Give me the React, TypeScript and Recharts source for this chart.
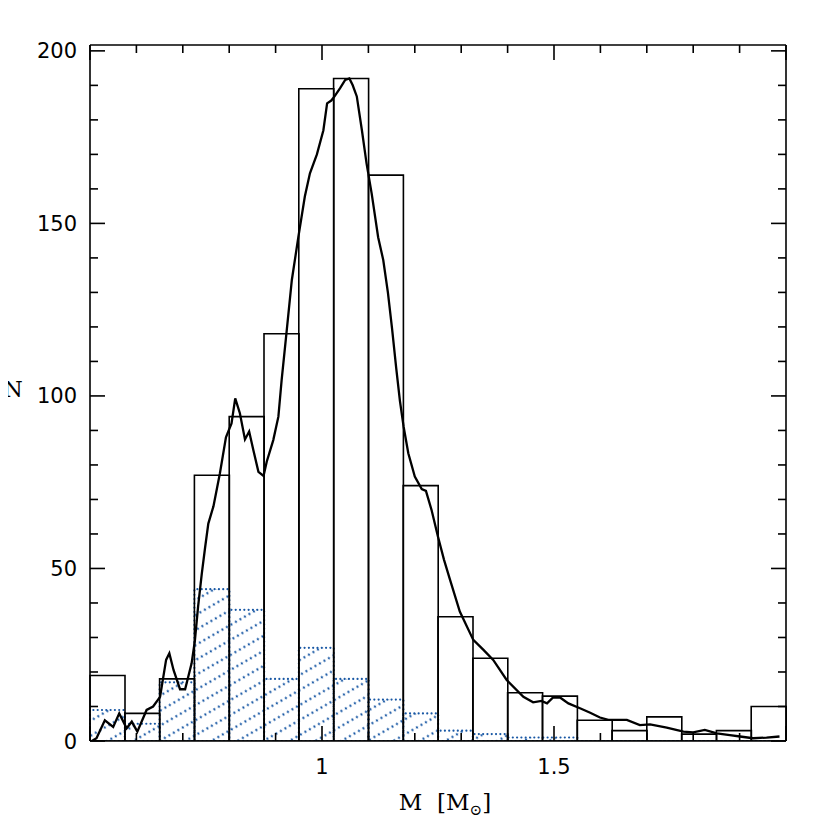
import { Bar, ComposedChart, Label, Line, XAxis, YAxis } from 'recharts';

// histogram bins (lower edges, width 0.075 Msun)
const binStart = [
  '0.500', '0.575', '0.650', '0.725', '0.800', '0.875', '0.950', '1.025', '1.100', '1.175',
  '1.250', '1.325', '1.400', '1.475', '1.550', '1.625', '1.700', '1.775', '1.850', '1.925',
];
const totalCounts = [19, 8, 18, 77, 94, 118, 189, 192, 164, 74, 36, 24, 14, 13, 6, 3, 7, 2, 3, 10];
const subCounts = [9, 5, 17, 44, 38, 18, 27, 18, 12, 8, 3, 2, 1, 1, 0, 0, 0, 0, 0, 0];

// smoothed distribution
const curveMass = [
  0.504, 0.514, 0.532, 0.55, 0.563, 0.579, 0.59, 0.602, 0.622, 0.636, 0.651, 0.664, 0.671, 0.68,
  0.694, 0.705, 0.719, 0.726, 0.733, 0.741, 0.748, 0.755, 0.766, 0.78, 0.793, 0.805, 0.813, 0.823,
  0.834, 0.843, 0.852, 0.863, 0.874, 0.881, 0.895, 0.906, 0.913, 0.924, 0.935, 0.949, 0.963, 0.974,
  0.989, 1.003, 1.011, 1.02, 1.027, 1.039, 1.05, 1.059, 1.066, 1.075, 1.086, 1.096, 1.107, 1.121,
  1.132, 1.142, 1.151, 1.16, 1.168, 1.176, 1.186, 1.2, 1.215, 1.224, 1.236, 1.25, 1.263, 1.276, 1.297,
  1.326, 1.348, 1.369, 1.398, 1.434, 1.455, 1.473, 1.485, 1.498, 1.513, 1.531, 1.556, 1.578, 1.599,
  1.617, 1.657, 1.685, 1.707, 1.743, 1.779, 1.8, 1.825, 1.851, 1.879, 1.901, 1.929, 1.958, 1.986,
];
const curveN = [
  0, 0.8, 6, 4.1, 8, 3.7, 5.6, 2.7, 9, 10, 12.8, 23.5, 25.4, 20.6,
  15, 15, 22.5, 29, 39, 48.6, 56, 63, 68, 77.6, 88, 92, 99.3, 95,
  87.4, 89.7, 84.3, 78, 76.8, 81, 87.2, 94, 104.6, 119, 133.6, 146, 157.8, 164.5,
  170, 177, 184.8, 185.6, 186.8, 189.2, 191.6, 192, 190.1, 186.8, 177, 167.4, 158.7, 146,
  139.4, 130, 119.5, 108, 98.5, 91, 83.4, 76.6, 73, 72.5, 67, 59.2, 52.5, 46.7, 37.5,
  29.3, 26.4, 23.5, 17.7, 12.8, 11.2, 11.6, 10.9, 12.6, 12.6, 10.9, 9.5, 8.2, 6.8,
  6.1, 6.1, 4.6, 4.8, 3.9, 2.7, 2.5, 3.2, 2.2, 1.7, 1.3, 0.8, 1.0, 1.3,
];

const xTicks = [0.5, 0.6, 0.7, 0.8, 0.9, 1, 1.1, 1.2, 1.3, 1.4, 1.5, 1.6, 1.7, 1.8, 1.9, 2];
const xLabelled = [1, 1.5];
const yTicks = [0, 10, 20, 30, 40, 50, 60, 70, 80, 90, 100, 110, 120, 130, 140, 150, 160, 170, 180, 190, 200];
const yLabelled = [0, 50, 100, 150, 200];

const bins = binStart.map((bin, i) => ({ bin, total: totalCounts[i], sub: subCounts[i] }));
const curve = curveMass.map((m, i) => ({ m, n: curveN[i] }));

const INK = '#000';
const BLUE = '#1857a4';
const NUM_FONT = 'DejaVu Sans';
const MAJOR = 15;
const MINOR = 8;
const Y_MAX = 201.7;

const isMajorX = (v: number) => Math.abs(v * 2 - Math.round(v * 2)) < 1e-6;
const isMajorY = (v: number) => v % 50 === 0;

// bottom ticks point up into the plot; the label sits below the frame
function BottomTick({ x, y, payload }: any) {
  const v = payload.value;
  return (
    <g>
      <path d={`M${x},${y}V${y - (isMajorX(v) ? MAJOR : MINOR)}`} stroke={INK} strokeWidth={1.6} fill="none" />
      {xLabelled.includes(v) && (
        <text x={x} y={y + 33} textAnchor="middle" fontFamily={NUM_FONT} fontSize={21} fill={INK}>
          {String(v)}
        </text>
      )}
    </g>
  );
}

function TopTick({ x, y, payload }: any) {
  const v = payload.value;
  return <path d={`M${x},${y}V${y + (isMajorX(v) ? MAJOR : MINOR)}`} stroke={INK} strokeWidth={1.6} fill="none" />;
}

function LeftTick({ x, y, payload }: any) {
  const v = payload.value;
  return (
    <g>
      <path d={`M${x},${y}H${x + (isMajorY(v) ? MAJOR : MINOR)}`} stroke={INK} strokeWidth={1.6} fill="none" />
      {yLabelled.includes(v) && (
        <text x={x - 13} y={y} dy="0.36em" textAnchor="end" fontFamily={NUM_FONT} fontSize={21} fill={INK}>
          {String(v)}
        </text>
      )}
    </g>
  );
}

function RightTick({ x, y, payload }: any) {
  const v = payload.value;
  return <path d={`M${x},${y}H${x - (isMajorY(v) ? MAJOR : MINOR)}`} stroke={INK} strokeWidth={1.6} fill="none" />;
}

function HatchBar({ x, y, width, height }: any) {
  const h = Math.max(0, height ?? 0);
  return (
    <g>
      {h > 0 && <rect x={x} y={y} width={width} height={h} fill="url(#hatch)" />}
      <path
        d={`M${x},${y + h}L${x},${y}L${x + width},${y}L${x + width},${y + h}Z`}
        fill="none"
        stroke={BLUE}
        strokeWidth={2.1}
        strokeDasharray="0.1 4.2"
        strokeLinecap="round"
      />
    </g>
  );
}

function MassTitle({ viewBox }: any) {
  const { x, y, width } = viewBox;
  return (
    <text
      x={x + width / 2 + 7}
      y={y + 69}
      textAnchor="middle"
      fontFamily="DejaVu Serif"
      fontSize={23}
      fill={INK}
      style={{ whiteSpace: 'pre' }}
    >
      {'M  [M'}
      <tspan fontSize={15} dy={5}>⊙</tspan>
      <tspan dy={-5}>]</tspan>
    </text>
  );
}

function NTitle({ viewBox }: any) {
  const cy = viewBox.y + viewBox.height / 2 - 4;
  return (
    <text x={13} y={cy} textAnchor="middle" dominantBaseline="central" fontFamily="DejaVu Serif" fontSize={22} fill={INK}>
      N
    </text>
  );
}

export default function App() {
  return (
    <div style={{ position: 'relative', margin: '-8px 0 0 -8px' }}>
      <svg width={0} height={0} style={{ position: 'absolute' }}>
        <defs>
          <pattern id="hatch" patternUnits="userSpaceOnUse" width={5.2} height={13} patternTransform="rotate(-30)">
            <circle cx={2.6} cy={6.5} r={1.15} fill={BLUE} />
          </pattern>
        </defs>
      </svg>
      <ComposedChart
        width={820}
        height={820}
        data={bins}
        margin={{ top: 44, right: 33, bottom: 0, left: 0 }}
        barCategoryGap={0}
        barGap={0}
      >
        <XAxis
          xAxisId="num"
          dataKey="m"
          type="number"
          domain={[0.5, 2]}
          allowDataOverflow
          ticks={xTicks}
          interval={0}
          tick={BottomTick}
          tickLine={false}
          tickSize={0}
          tickMargin={0}
          height={79}
          axisLine={{ stroke: INK, strokeWidth: 1.6 }}
        >
          <Label content={MassTitle} />
        </XAxis>
        <XAxis xAxisId="cat" dataKey="bin" type="category" height={0} hide />
        <XAxis xAxisId="cat2" dataKey="bin" type="category" height={0} hide />
        <XAxis
          xAxisId="top"
          dataKey="m"
          orientation="top"
          type="number"
          domain={[0.5, 2]}
          allowDataOverflow
          ticks={xTicks}
          interval={0}
          tick={TopTick}
          tickLine={false}
          tickSize={0}
          tickMargin={0}
          height={1}
          axisLine={{ stroke: INK, strokeWidth: 1.6 }}
        />
        <YAxis
          type="number"
          domain={[0, Y_MAX]}
          allowDataOverflow
          ticks={yTicks}
          interval={0}
          tick={LeftTick}
          tickLine={false}
          tickSize={0}
          tickMargin={0}
          width={90}
          axisLine={{ stroke: INK, strokeWidth: 1.6 }}
        >
          <Label content={NTitle} />
        </YAxis>
        <YAxis
          yAxisId="right"
          orientation="right"
          type="number"
          domain={[0, Y_MAX]}
          allowDataOverflow
          ticks={yTicks}
          interval={0}
          tick={RightTick}
          tickLine={false}
          tickSize={0}
          tickMargin={0}
          width={1}
          axisLine={{ stroke: INK, strokeWidth: 1.6 }}
        />
        <Bar xAxisId="cat2" dataKey="sub" shape={HatchBar} isAnimationActive={false} />
        <Bar xAxisId="cat" dataKey="total" fill="none" stroke={INK} strokeWidth={1.6} isAnimationActive={false} />
        {/* invisible twin of the curve so the top and right frame axes get drawn */}
        <Line
          xAxisId="top"
          yAxisId="right"
          data={curve}
          dataKey="n"
          stroke="none"
          dot={false}
          activeDot={false}
          isAnimationActive={false}
        />
        <Line
          xAxisId="num"
          data={curve}
          dataKey="n"
          type="linear"
          stroke={INK}
          strokeWidth={2.3}
          dot={false}
          activeDot={false}
          isAnimationActive={false}
        />
      </ComposedChart>
    </div>
  );
}
